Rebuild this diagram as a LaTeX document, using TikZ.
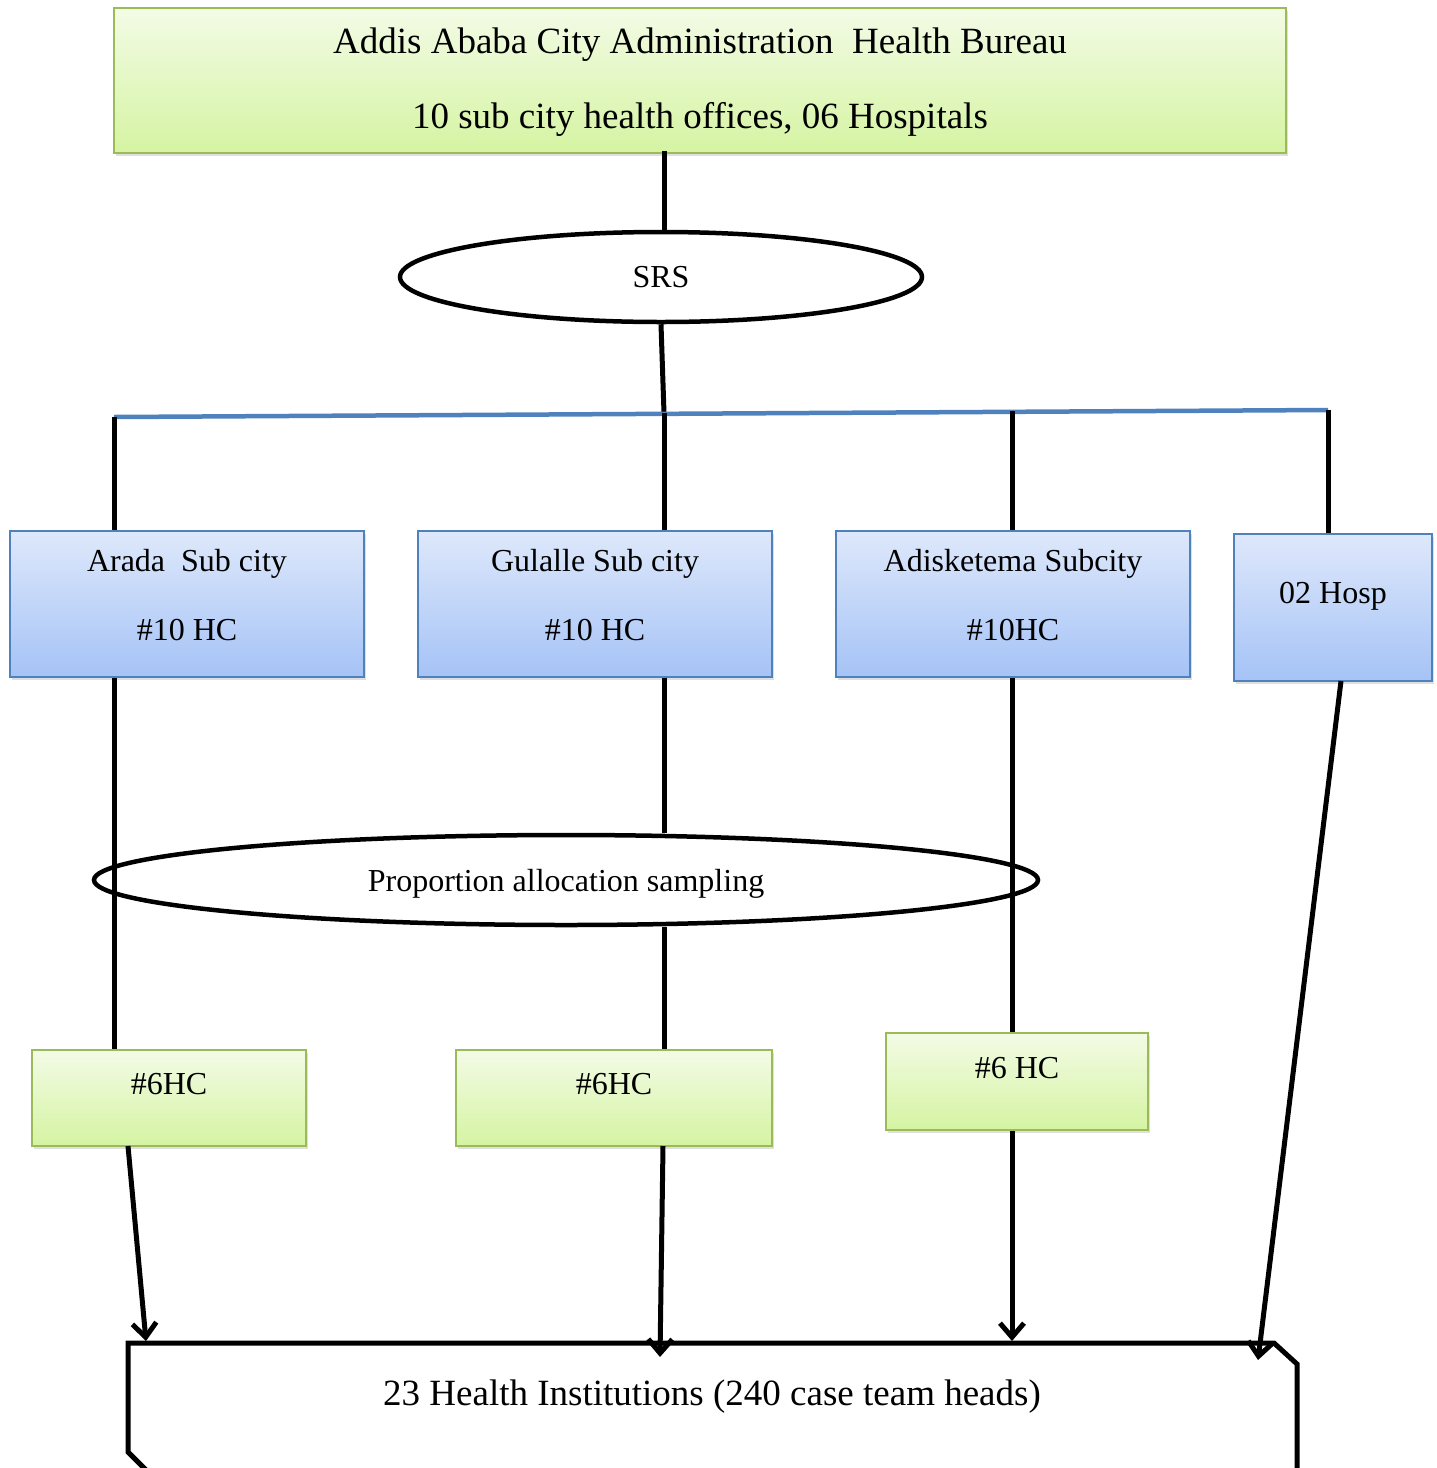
\documentclass[tikz,border=0pt]{standalone}
\usepackage{fontspec}
\setmainfont{Liberation Serif}
\usetikzlibrary{arrows.meta,shadows,shapes.geometric}

\definecolor{greentop}{HTML}{F3FBE6}
\definecolor{greenbot}{HTML}{D5F4A2}
\definecolor{greenline}{HTML}{9BBB59}
\definecolor{bluetop}{HTML}{DEE8FB}
\definecolor{bluebot}{HTML}{A5C3F6}
\definecolor{blueline}{HTML}{4F81BD}

\begin{document}
\begin{tikzpicture}[x=1pt,y=-1pt,
    greenbox/.style={draw=greenline, line width=1.5pt, top color=greentop, bottom color=greenbot,
        drop shadow={shadow xshift=2pt, shadow yshift=-3pt, opacity=.25}, inner sep=0},
    bluebox/.style={draw=blueline, line width=1.5pt, top color=bluetop, bottom color=bluebot,
        drop shadow={shadow xshift=2pt, shadow yshift=-3pt, opacity=.25}, inner sep=0},
    oval/.style={ellipse, draw, line width=4.5pt, inner sep=0, text depth=0pt,
        font=\fontsize{32}{38}\selectfont},
    txt/.style={font=\fontsize{32}{38}\selectfont, inner sep=0, anchor=base},
    bigtxt/.style={font=\fontsize{37}{44}\selectfont, inner sep=0, anchor=base},
    conn/.style={line width=5pt},
    arr/.style={line width=5pt, -{Straight Barb[length=14pt,width=24pt]}},
]

    \useasboundingbox (0,0) rectangle (1437,1468);

    % top box
    \node[greenbox, minimum width=1172pt, minimum height=145pt] (bureau) at (700,80.5) {};
    \node[bigtxt] (bureauA) at (700,53) {Addis Ababa City Administration\ \ Health Bureau};
    \node[bigtxt] (bureauB) at (700,128) {10 sub city health offices, 06 Hospitals};

    \node[oval, minimum width=522pt, minimum height=90pt] (srs) at (661,277) {SRS};

    % blue bar
    \coordinate (barL) at (114,417);
    \coordinate (barM) at (664,413);
    \coordinate (barN) at (1012,411);
    \coordinate (barR) at (1328,410);

    % sub city boxes
    \node[bluebox, minimum width=354pt, minimum height=146pt] (arada) at (187,604) {};
    \node[txt] (aradaA) at (187,571) {Arada\ \ Sub city};
    \node[txt] (aradaB) at (187,640) {\#10 HC};

    \node[bluebox, minimum width=354pt, minimum height=146pt] (gulalle) at (595,604) {};
    \node[txt] (gulalleA) at (595,571) {Gulalle Sub city};
    \node[txt] (gulalleB) at (595,640) {\#10 HC};

    \node[bluebox, minimum width=354pt, minimum height=146pt] (adis) at (1013,604) {};
    \node[txt] (adisA) at (1013,571) {Adisketema Subcity};
    \node[txt] (adisB) at (1013,640) {\#10HC};

    \node[bluebox, minimum width=198pt, minimum height=147pt] (hosp) at (1333,607.5) {};
    \node[txt] (hospA) at (1333,603) {02 Hosp};

    \node[oval, minimum width=944pt, minimum height=90pt] (pas) at (566,880) {Proportion allocation sampling};

    % sampled HC boxes
    \node[greenbox, minimum width=274pt, minimum height=96pt] (hcA) at (169,1098) {};
    \node[txt] (hcAt) at (169,1094) {\#6HC};
    \node[greenbox, minimum width=316pt, minimum height=96pt] (hcB) at (614,1098) {};
    \node[txt] (hcBt) at (614,1094) {\#6HC};
    \node[greenbox, minimum width=262pt, minimum height=97pt] (hcC) at (1017,1081.5) {};
    \node[txt] (hcCt) at (1017,1078) {\#6 HC};

    % institutions box
    \draw[line width=5pt, line join=miter] (150,1474) -- (128,1452) -- (128,1343)
        -- (1274,1343) -- (1297,1364) -- (1297,1490);
    \node[bigtxt] (inst) at (712,1405) {23 Health Institutions (240 case team heads)};
    \coordinate (inA) at (146,1341);
    \coordinate (inB) at (660,1357);
    \coordinate (inC) at (1012,1341);
    \coordinate (inD) at (1258,1360);

    % connectors
    \draw[conn] ([yshift=3pt]barM |- bureau.south) -- (srs.north -| barM);
    \draw[conn] (srs.south) -- (barM);
    \draw[line width=4.5pt, blueline] (barL) -- (barR);
    \draw[conn] (barL) -- (barL |- arada.north);
    \draw[conn] (barM) -- (barM |- gulalle.north);
    \draw[conn] (barN) -- (barN |- adis.north);
    \draw[conn] (barR) -- (barR |- hosp.north);

    \draw[conn] (barL |- arada.south) -- (barL |- hcA.north);
    \draw[conn] (barM |- gulalle.south) -- (barM |- pas.north);
    \draw[conn] (barM |- pas.south) -- (barM |- hcB.north);
    \draw[conn] (barN |- adis.south) -- (barN |- hcC.north);

    \draw[arr] (128,1146) -- (inA);
    \draw[arr] (663,1146) -- (inB);
    \draw[arr] (barN |- hcC.south) -- (inC);
    \draw[arr] (1341,681) -- (inD);

\end{tikzpicture}
\end{document}
